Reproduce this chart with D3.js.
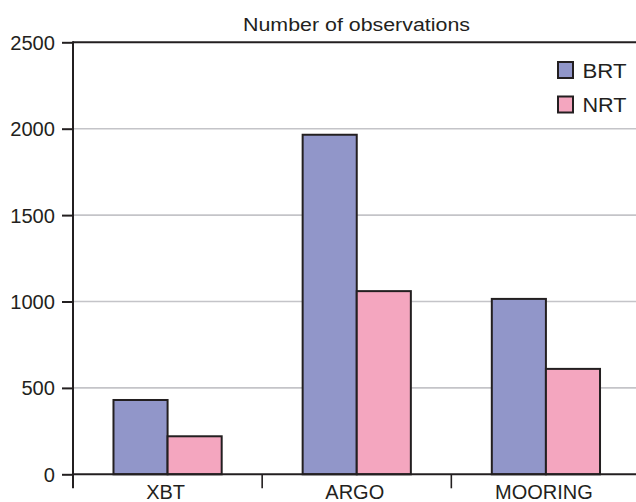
<!DOCTYPE html>
<html>
<head>
<meta charset="utf-8">
<script src="https://cdn.jsdelivr.net/npm/d3@7"></script>
<style>
  html, body { margin: 0; padding: 0; background: #fff; }
  svg { display: block; }
  text { font-family: "Liberation Sans", Arial, Helvetica, sans-serif; fill: #231f20; }
</style>
</head>
<body>
<svg id="chart" width="636" height="502"></svg>
<script>
const categories = ["XBT", "ARGO", "MOORING"];
const seriesNames = ["BRT", "NRT"];
const brtValues = [430, 1965, 1015];
const nrtValues = [220, 1060, 610];
const yTicks = [0, 500, 1000, 1500, 2000, 2500];
const titleText = "Number of observations";
const colors = { BRT: "#9196c9", NRT: "#f4a6bf" };

const data = categories.map((c, i) => ({ cat: c, BRT: brtValues[i], NRT: nrtValues[i] }));

const svg = d3.select("#chart");
const mLeft = 73, mRight = 640.5, mTop = 42.3, mBottom = 474.3;
const ink = "#231f20";

const x0 = d3.scaleBand().domain(categories).range([mLeft, mRight]).paddingInner(0).paddingOuter(0);
const groupW = x0.bandwidth() * 0.572;
const x1 = d3.scaleBand().domain(seriesNames)
  .range([(x0.bandwidth() - groupW) / 2, (x0.bandwidth() + groupW) / 2]);
const y = d3.scaleLinear().domain([0, 2500]).range([mBottom, mTop]);

// gridlines
svg.append("g").selectAll("line").data(yTicks.filter(t => t > 0 && t < 2500)).join("line")
  .attr("x1", mLeft).attr("x2", 636)
  .attr("y1", d => y(d)).attr("y2", d => y(d))
  .attr("stroke", "#c4c4c8").attr("stroke-width", 1.6);

// top frame line
svg.append("line").attr("x1", mLeft).attr("x2", 636)
  .attr("y1", y(2500)).attr("y2", y(2500))
  .attr("stroke", ink).attr("stroke-width", 2);

// bars
const groups = svg.append("g").selectAll("g").data(data).join("g")
  .attr("transform", d => `translate(${x0(d.cat)},0)`);
groups.selectAll("rect").data(d => seriesNames.map(s => ({ s, v: d[s] }))).join("rect")
  .attr("x", d => x1(d.s)).attr("width", x1.bandwidth())
  .attr("y", d => y(d.v)).attr("height", d => y(0) - y(d.v))
  .attr("fill", d => colors[d.s]).attr("stroke", ink).attr("stroke-width", 2);

// y axis
const yAxis = d3.axisLeft(y).tickValues(yTicks).tickSize(11).tickPadding(7).tickFormat(d3.format("d"));
const yg = svg.append("g").attr("transform", `translate(${mLeft},0)`).call(yAxis);
yg.select(".domain").remove();
yg.selectAll(".tick line").attr("stroke", ink).attr("stroke-width", 2);
yg.selectAll(".tick text").attr("font-size", 19.5).attr("fill", ink)
  .attr("font-family", "'Liberation Sans', Arial, sans-serif").attr("dy", "0.36em")
  .attr("textLength", d => String(d).length * 11.2).attr("lengthAdjust", "spacingAndGlyphs");

// y axis line
svg.append("line").attr("x1", mLeft).attr("x2", mLeft).attr("y1", mTop - 1).attr("y2", mBottom + 14)
  .attr("stroke", ink).attr("stroke-width", 2);

// x axis line
svg.append("line").attr("x1", mLeft).attr("x2", 636).attr("y1", mBottom).attr("y2", mBottom)
  .attr("stroke", ink).attr("stroke-width", 2);

// x ticks between categories
svg.append("g").selectAll("line").data(categories.slice(1)).join("line")
  .attr("x1", d => x0(d)).attr("x2", d => x0(d))
  .attr("y1", mBottom).attr("y2", mBottom + 14)
  .attr("stroke", ink).attr("stroke-width", 1.6);

// category labels
svg.append("g").selectAll("text").data(categories).join("text")
  .attr("x", d => x0(d) + x0.bandwidth() / 2 - 2)
  .attr("y", 498.5)
  .attr("text-anchor", "middle").attr("font-size", 20)
  .text(d => d);

// title
svg.append("text").attr("x", 356.5).attr("y", 31)
  .attr("text-anchor", "middle").attr("font-size", 17.5)
  .attr("textLength", 227).attr("lengthAdjust", "spacingAndGlyphs")
  .text(titleText);

// legend
const legend = svg.append("g").selectAll("g").data(seriesNames).join("g")
  .attr("transform", (d, i) => `translate(558,${62 + i * 34.5})`);
legend.append("rect").attr("x", 0).attr("y", 0).attr("width", 15).attr("height", 16)
  .attr("fill", d => colors[d]).attr("stroke", ink).attr("stroke-width", 2);
legend.append("text").attr("x", 24.5).attr("y", 15.5).attr("font-size", 20)
  .attr("textLength", 44).attr("lengthAdjust", "spacingAndGlyphs")
  .text(d => d);
</script>
</body>
</html>
